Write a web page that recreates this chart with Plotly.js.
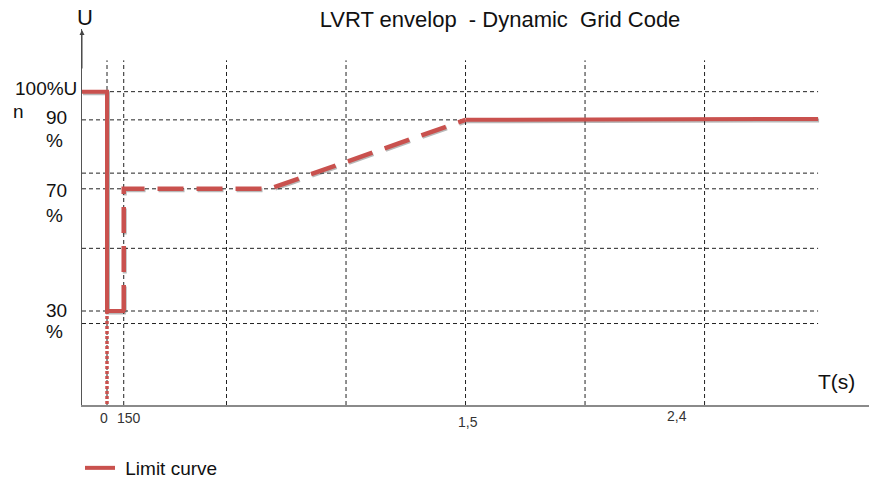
<!DOCTYPE html>
<html>
<head>
<meta charset="utf-8">
<script src="https://cdn.plot.ly/plotly-3.0.1.min.js"></script>
<style>html,body{margin:0;padding:0;background:#fff;}#chart{width:869px;height:478px;}</style>
</head>
<body>
<div id="chart"></div>
<script>
// ---- data ----
const seriesName = "Limit curve";
// solid part before the fault (time in s, voltage in % of Un)
const preFaultT = [-0.1046, 0, 0, 0.075];
const preFaultU = [100, 100, 30, 30];
// dotted drop to zero at t = 0
const dropT = [0, 0];
const dropU = [30, 0];
// dashed recovery envelope
const recoveryT = [0.07, 0.07, 0.68, 1.5];
const recoveryU = [30, 69, 69, 91];
// solid part after recovery
const postT = [1.5, 2.975];
const postU = [91, 91.3];
// dashed reference lines
const vGridT = [0, 0.07, 0.5, 1.0, 1.5, 2.0, 2.5];
const hGridU = [100, 91, 74, 69, 50, 30, 26];
// label texts
const yLabelTexts = ["100%U", "n", "90", "%", "70", "%", "30", "%"];
const xLabelTexts = ["0", "150", "1,5", "2,4"];
const titleText = "LVRT envelop\u00a0\u00a0- Dynamic\u00a0\u00a0Grid Code";
const yAxisName = "U";
const xAxisName = "T(s)";

// ---- layout constants ----
const T_MIN = -0.1046, T_MAX = 3.188, U_MAX = 120;
const GRID_T_END = 2.975, GRID_U_END = 110;
const L = 82, T = 29, B = 73, W = 869, H = 478;
const PW = W - L, PH = H - T - B;
const pxX = p => (p - L) / PW;
const pxY = p => (H - B - p) / PH;
const RED = "#c9514e";
const FONT = "Liberation Sans, Arial, sans-serif";
const sx = 1 / (PW / (T_MAX - T_MIN));          // 1 px shadow offset
const sy = 1.5 / (PH / U_MAX);                   // 1.5 px shadow offset

function gridTrace(vals, vertical) {
  const x = [], y = [];
  vals.forEach(v => {
    if (vertical) { x.push(v, v, null); y.push(0, GRID_U_END, null); }
    else { x.push(T_MIN, GRID_T_END, null); y.push(v, v, null); }
  });
  return {x, y, type: "scatter", mode: "lines", xaxis: "x2", yaxis: "y2",
    line: {color: "#222", width: 1, dash: "4px,3px"}, hoverinfo: "skip", showlegend: false};
}

const shadowLine = {color: "#b8b8b8", width: 4};
const traces = [
  // shadows (base axes, shifted range)
  {x: preFaultT, y: preFaultU, type: "scatter", mode: "lines", line: shadowLine, showlegend: false, hoverinfo: "skip"},
  {x: recoveryT, y: recoveryU, type: "scatter", mode: "lines", line: Object.assign({}, shadowLine, {dash: "26px,13px"}), showlegend: false, hoverinfo: "skip"},
  {x: postT, y: postU, type: "scatter", mode: "lines", line: shadowLine, showlegend: false, hoverinfo: "skip"},
  gridTrace(vGridT, true),
  gridTrace(hGridU, false),
  {x: preFaultT, y: preFaultU, type: "scatter", mode: "lines", xaxis: "x2", yaxis: "y2",
    name: "\u00a0" + seriesName, line: {color: RED, width: 4}, showlegend: true},
  {x: dropT, y: dropU, type: "scatter", mode: "lines", xaxis: "x2", yaxis: "y2",
    line: {color: RED, width: 3.5, dash: "3px,2px"}, showlegend: false},
  {x: recoveryT, y: recoveryU, type: "scatter", mode: "lines", xaxis: "x2", yaxis: "y2",
    line: {color: RED, width: 4.5, dash: "26px,13px"}, showlegend: false},
  {x: postT, y: postU, type: "scatter", mode: "lines", xaxis: "x2", yaxis: "y2",
    line: {color: RED, width: 4}, showlegend: false}
];

// label positions in pixels (centre)
const yLabelPos = [[46, 88.5], [19, 112], [56, 117.5], [54, 140], [56, 190], [54, 215], [56, 310], [54, 331]];
const xLabelPos = [[104, 418], [128.5, 418], [468, 421.5], [676.5, 416]];

const annotations = [];
yLabelTexts.forEach((t, i) => annotations.push({
  text: t, xref: "paper", yref: "paper", x: pxX(yLabelPos[i][0]), y: pxY(yLabelPos[i][1]),
  xanchor: "center", yanchor: "middle", showarrow: false, font: {family: FONT, size: 19, color: "#111"}
}));
xLabelTexts.forEach((t, i) => annotations.push({
  text: t, xref: "paper", yref: "paper", x: pxX(xLabelPos[i][0]), y: pxY(xLabelPos[i][1]),
  xanchor: "center", yanchor: "middle", showarrow: false, font: {family: FONT, size: 14, color: "#333"}
}));
annotations.push({text: yAxisName, xref: "paper", yref: "paper", x: pxX(84.5), y: pxY(18),
  xanchor: "center", yanchor: "middle", showarrow: false, font: {family: FONT, size: 22, color: "#111"}});
annotations.push({text: xAxisName, xref: "paper", yref: "paper", x: pxX(836), y: pxY(381),
  xanchor: "center", yanchor: "middle", showarrow: false, font: {family: FONT, size: 21, color: "#111"}});
// arrow head on the U axis
annotations.push({text: "", xref: "paper", yref: "paper", x: 0, y: pxY(30), ax: 0, ay: 40,
  showarrow: true, arrowhead: 2, arrowsize: 1, arrowwidth: 1, arrowcolor: "#444"});

const layout = {
  width: W, height: H,
  margin: {l: L, r: 0, t: T, b: B, pad: 0, autoexpand: false},
  paper_bgcolor: "#fff", plot_bgcolor: "rgba(0,0,0,0)",
  font: {family: FONT, color: "#111"},
  title: {text: titleText, x: 500 / W, xref: "container", xanchor: "center",
    y: 1 - 19.5 / H, yref: "container", yanchor: "middle", font: {family: FONT, size: 22, color: "#111"}},
  xaxis: {range: [T_MIN - sx, T_MAX - sx], showgrid: false, zeroline: false, showticklabels: false, ticks: "",
    showline: true, linecolor: "#8a8a8a", linewidth: 2, fixedrange: true},
  yaxis: {range: [sy, U_MAX + sy], showgrid: false, zeroline: false, showticklabels: false, ticks: "",
    showline: true, linecolor: "#555", linewidth: 1, fixedrange: true},
  xaxis2: {range: [T_MIN, T_MAX], overlaying: "x", anchor: "y2", visible: false, fixedrange: true},
  yaxis2: {range: [0, U_MAX], overlaying: "y", anchor: "x2", visible: false, fixedrange: true},
  showlegend: true,
  legend: {x: pxX(80), y: pxY(468), xanchor: "left", yanchor: "middle", orientation: "h",
    itemwidth: 30, bgcolor: "rgba(0,0,0,0)", font: {family: FONT, size: 19, color: "#111"}},
  annotations: annotations
};

Plotly.newPlot("chart", traces, layout, {displayModeBar: false, staticPlot: true});
</script>
</body>
</html>
